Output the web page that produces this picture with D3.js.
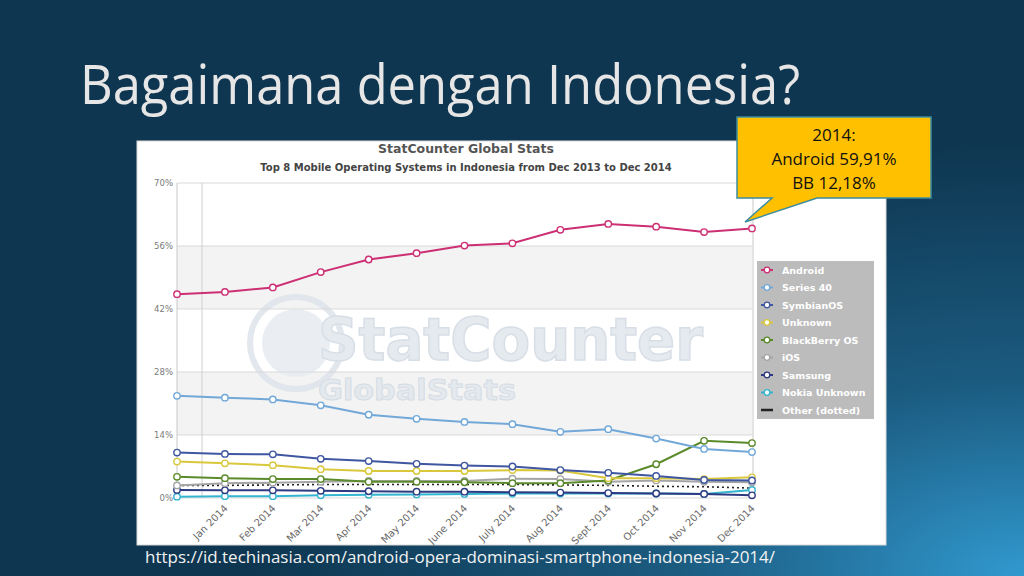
<!DOCTYPE html>
<html><head><meta charset="utf-8">
<script src="https://cdn.jsdelivr.net/npm/d3@7"></script>
<style>html,body{margin:0;padding:0;background:#0f3a55;overflow:hidden}</style>
</head><body>
<svg id="c" width="1024" height="576"></svg>
<script>
const months = ["Dec 2013","Jan 2014","Feb 2014","Mar 2014","Apr 2014","May 2014","June 2014","July 2014","Aug 2014","Sept 2014","Oct 2014","Nov 2014","Dec 2014"];
const android    = [45.3,45.8,46.8,50.2,53.0,54.4,56.1,56.6,59.6,60.9,60.3,59.1,59.9];
const series40   = [22.7,22.3,21.9,20.6,18.5,17.6,16.9,16.4,14.7,15.3,13.2,10.9,10.2];
const symbian    = [10.1,9.8,9.7,8.7,8.2,7.6,7.2,7.0,6.2,5.6,4.9,4.0,3.9];
const unknown    = [8.1,7.7,7.3,6.4,6.0,6.0,6.0,6.2,6.1,4.4,4.4,4.2,4.6];
const blackberry = [4.7,4.4,4.2,4.2,3.6,3.6,3.5,3.3,3.3,3.9,7.5,12.7,12.2];
const ios        = [2.8,3.3,3.4,3.6,3.8,3.8,3.8,4.3,4.2,3.6,3.9,3.6,3.5];
const samsung    = [1.8,1.7,1.7,1.6,1.5,1.4,1.4,1.3,1.2,1.1,1.0,0.9,0.6];
const nokiaUnk   = [0.3,0.4,0.4,0.6,0.7,0.8,0.9,1.0,1.0,1.0,1.0,0.9,1.8];
const other      = [2.8,2.8,2.9,3.0,3.0,3.0,3.0,3.0,2.9,2.8,2.6,2.5,2.2];
const yTicks = [0,14,28,42,56,70];
const seriesNames = ["Android","Series 40","SymbianOS","Unknown","BlackBerry OS","iOS","Samsung","Nokia Unknown","Other (dotted)"];
const seriesColors = ["#cc2f74","#72a8d8","#3f56a0","#d9c83c","#5b8a2a","#a5a5a5","#2d3a82","#33b4cf","#222222"];
const seriesVals = [android,series40,symbian,unknown,blackberry,ios,samsung,nokiaUnk,other];

const svg = d3.select("#c");
const defs = svg.append("defs");
const rg = defs.append("radialGradient").attr("id","bg").attr("cx","1").attr("cy","1").attr("r","0.75").attr("gradientUnits","objectBoundingBox");
rg.append("stop").attr("offset","0").attr("stop-color","#3199cf");
rg.append("stop").attr("offset","0.45").attr("stop-color","#1b5b80");
rg.append("stop").attr("offset","1").attr("stop-color","#0e3650");
svg.append("rect").attr("width",1024).attr("height",576).attr("fill","url(#bg)");

// slide title
svg.append("text").attr("x",80).attr("y",104).attr("fill","#e6e6e6")
  .style("font-family","'Open Sans'").style("font-size","55px")
  .attr("textLength",720).attr("lengthAdjust","spacingAndGlyphs")
  .text("Bagaimana dengan Indonesia?");

// chart panel
svg.append("rect").attr("x",137).attr("y",141).attr("width",749).attr("height",404).attr("fill","#ffffff").attr("stroke","#d8d8d8");

const x = d3.scalePoint().domain(months).range([177,752]);
const y = d3.scaleLinear().domain([0,70]).range([498,183]);

// bands
const bands = [[42,56],[14,28]];
svg.selectAll(".band").data(bands).enter().append("rect")
  .attr("x",177).attr("width",752-177)
  .attr("y",d=>y(d[1])).attr("height",d=>y(d[0])-y(d[1])).attr("fill","#f3f3f3");

// watermark
const wm = svg.append("g").attr("opacity",0.9);
wm.append("circle").attr("cx",296).attr("cy",343).attr("r",46).attr("fill","none").attr("stroke","#dfe5ec").attr("stroke-width",6);
wm.append("circle").attr("cx",296).attr("cy",343).attr("r",34).attr("fill","#e8edf2");
wm.append("text").attr("x",318).attr("y",360).style("font-family","'DejaVu Sans'").style("font-weight","bold")
  .style("font-size","58px").attr("fill","#e3e8ee").attr("stroke","#d3dbe4").attr("stroke-width",1.5)
  .attr("textLength",385).attr("lengthAdjust","spacingAndGlyphs").text("StatCounter");
wm.append("text").attr("x",318).attr("y",400).style("font-family","'DejaVu Sans'").style("font-weight","bold")
  .style("font-size","29px").attr("fill","#e3e8ee").attr("stroke","#d3dbe4").attr("stroke-width",1)
  .attr("textLength",198).attr("lengthAdjust","spacingAndGlyphs").text("GlobalStats");

// gridlines
svg.selectAll(".grid").data(yTicks).enter().append("line")
  .attr("x1",177).attr("x2",752).attr("y1",d=>y(d)).attr("y2",d=>y(d))
  .attr("stroke","#d9d9d9").attr("stroke-width",1);
svg.append("line").attr("x1",202).attr("x2",202).attr("y1",y(70)).attr("y2",y(0)).attr("stroke","#d0d0d0");
svg.append("line").attr("x1",177).attr("x2",177).attr("y1",y(70)).attr("y2",y(0)).attr("stroke","#c8c8c8");
svg.append("line").attr("x1",753).attr("x2",753).attr("y1",y(70)).attr("y2",y(0)).attr("stroke","#c8c8c8");

// y axis
const yAxis = d3.axisLeft(y).tickValues(yTicks).tickSize(0).tickPadding(4).tickFormat(d=>d+"%");
const ya = svg.append("g").attr("transform","translate(177,0)").call(yAxis);
ya.select(".domain").remove();
ya.selectAll("text").style("font-family","'DejaVu Sans'").style("font-size","8.5px").attr("fill","#7a7a7a");

// x axis
const xAxis = d3.axisBottom(x).tickValues(months.slice(1)).tickSize(0).tickPadding(0);
const xa = svg.append("g").attr("transform","translate(0,"+y(0)+")").call(xAxis);
xa.select(".domain").remove();
xa.selectAll("text").style("font-family","'DejaVu Sans'").style("font-size","10px").attr("fill","#6a6a6a")
  .attr("text-anchor","end").attr("dy",0).attr("y",0)
  .attr("transform","translate(3,11) rotate(-45)");

// chart titles
svg.append("text").attr("x",466).attr("y",153).attr("text-anchor","middle")
  .style("font-family","'DejaVu Sans'").style("font-weight","bold").style("font-size","12.5px").attr("fill","#555")
  .text("StatCounter Global Stats");
svg.append("text").attr("x",466).attr("y",171).attr("text-anchor","middle")
  .style("font-family","'DejaVu Sans'").style("font-weight","bold").style("font-size","10px").attr("fill","#444")
  .text("Top 8 Mobile Operating Systems in Indonesia from Dec 2013 to Dec 2014");

// lines
const line = d3.line().x((d,i)=>x(months[i])).y(d=>y(d));
for (let s = seriesVals.length-1; s>=0; s--) {
  const g = svg.append("g");
  const isOther = s===8;
  g.append("path").datum(seriesVals[s]).attr("d",line).attr("fill","none")
    .attr("stroke",seriesColors[s]).attr("stroke-width",isOther?1.6:2)
    .attr("stroke-dasharray",isOther?"2,3":null);
  if (!isOther) {
    g.selectAll("circle").data(seriesVals[s]).enter().append("circle")
      .attr("cx",(d,i)=>x(months[i])).attr("cy",d=>y(d)).attr("r",3.2)
      .attr("fill","#ffffff").attr("stroke",seriesColors[s]).attr("stroke-width",1.4);
  }
}

// legend
const lg = svg.append("g");
lg.append("rect").attr("x",757).attr("y",261).attr("width",117).attr("height",158).attr("fill","#bcbcbc");
const ly = d3.scalePoint().domain(seriesNames).range([270,410]);
seriesNames.forEach((n,i)=>{
  const yy = ly(n);
  if (i===8) {
    lg.append("line").attr("x1",761).attr("x2",773).attr("y1",yy).attr("y2",yy).attr("stroke","#222").attr("stroke-width",2.5);
  } else {
    lg.append("line").attr("x1",761).attr("x2",773).attr("y1",yy).attr("y2",yy).attr("stroke",seriesColors[i]).attr("stroke-width",2);
    lg.append("circle").attr("cx",767).attr("cy",yy).attr("r",2.8).attr("fill","#fff").attr("stroke",seriesColors[i]).attr("stroke-width",1.3);
  }
  lg.append("text").attr("x",782).attr("y",yy+3.5).style("font-family","'DejaVu Sans'").style("font-weight","bold")
    .style("font-size","9.5px").attr("fill","#ffffff").text(n);
});

// callout
const tip = [745, 222];
const cpath = d3.path();
cpath.moveTo(737,117); cpath.lineTo(931,117); cpath.lineTo(931,198); cpath.lineTo(817,198);
cpath.lineTo(tip[0],tip[1]); cpath.lineTo(772,198); cpath.lineTo(737,198); cpath.closePath();
svg.append("path").attr("d",cpath.toString()).attr("fill","#ffc000").attr("stroke","#3d8da0").attr("stroke-width",1.5);
const callLines = ["2014:","Android 59,91%","BB 12,18%"];
svg.selectAll(".cl").data(callLines).enter().append("text")
  .attr("x",834).attr("y",(d,i)=>141+i*24).attr("text-anchor","middle")
  .style("font-family","'Open Sans'").style("font-size","17px").attr("fill","#111").text(d=>d);

// source
svg.append("text").attr("x",145).attr("y",563).attr("fill","#f2f2f2")
  .style("font-family","'Open Sans'").style("font-size","17px")
  .attr("textLength",630).attr("lengthAdjust","spacingAndGlyphs")
  .text("https://id.techinasia.com/android-opera-dominasi-smartphone-indonesia-2014/");
</script>
</body></html>
